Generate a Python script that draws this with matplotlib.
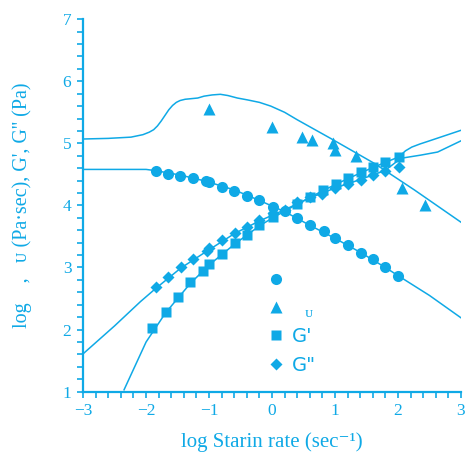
import matplotlib
matplotlib.use("Agg")
import matplotlib.pyplot as plt
from matplotlib.lines import Line2D
from matplotlib.ticker import MultipleLocator

C = "#0fa9e6"

# viscosity (circles)
eta_x = [-1.85, -1.65, -1.46, -1.25, -1.05, -1.00, -0.79, -0.60, -0.39, -0.20, 0.01,
         0.20, 0.40, 0.60, 0.82, 1.00, 1.20, 1.41, 1.60, 1.80, 2.00]
eta_y = [4.55, 4.51, 4.48, 4.44, 4.39, 4.37, 4.30, 4.24, 4.15, 4.08, 3.98,
         3.91, 3.79, 3.68, 3.58, 3.47, 3.36, 3.24, 3.13, 3.00, 2.87]

# eta_u (triangles)
etau_x = [-1.00, 0.00, 0.48, 0.63, 0.97, 1.00, 1.34, 2.07, 2.43]
etau_y = [5.55, 5.27, 5.10, 5.05, 5.01, 4.89, 4.80, 4.28, 4.01]

# G' (squares)
g1_x = [-1.90, -1.69, -1.50, -1.30, -1.09, -1.00, -0.80, -0.59, -0.39, -0.20, 0.01,
        0.40, 0.61, 0.81, 1.01, 1.20, 1.41, 1.60, 1.80, 2.01]
g1_y = [2.03, 2.29, 2.52, 2.76, 2.95, 3.06, 3.22, 3.39, 3.53, 3.68, 3.81,
        4.03, 4.14, 4.25, 4.35, 4.44, 4.54, 4.62, 4.70, 4.78]

# G'' (diamonds)
g2_x = [-1.85, -1.65, -1.45, -1.25, -1.04, -1.00, -0.80, -0.59, -0.39, -0.20, 0.01,
        0.20, 0.40, 0.60, 0.80, 1.00, 1.20, 1.41, 1.60, 1.79, 2.01]
g2_y = [2.68, 2.85, 3.00, 3.13, 3.27, 3.31, 3.44, 3.56, 3.66, 3.76, 3.87,
        3.93, 4.05, 4.13, 4.19, 4.28, 4.35, 4.41, 4.49, 4.55, 4.62]

# curves
eu_lx = [-3.0, -2.6, -2.24, -2.05, -1.95, -1.88, -1.82, -1.76, -1.70, -1.64, -1.58,
         -1.52, -1.46, -1.38, -1.28, -1.18, -1.08, -0.95, -0.82, -0.70, -0.55,
         -0.39, -0.20, -0.02, 0.20, 0.40, 0.93, 1.62, 2.26, 3.0]
eu_ly = [5.07, 5.08, 5.10, 5.14, 5.18, 5.22, 5.28, 5.36, 5.45, 5.54, 5.61,
         5.66, 5.69, 5.71, 5.72, 5.73, 5.76, 5.78, 5.79, 5.77, 5.73,
         5.70, 5.66, 5.60, 5.50, 5.38, 5.08, 4.68, 4.25, 3.73]

eta_lx = [-3.0, -2.0, -1.85, -1.46, -1.05, -0.60, -0.20, 0.20, 0.60, 1.00, 1.41, 1.80,
          2.00, 2.5, 3.0]
eta_ly = [4.58, 4.58, 4.56, 4.49, 4.39, 4.25, 4.08, 3.90, 3.68, 3.47, 3.24, 3.00,
          2.87, 2.55, 2.19]

g1_lx = [-2.35, -2.0, -1.69, -1.50, -1.30, -1.00, -0.59, -0.20, 0.01, 0.40, 0.81,
         1.20, 1.60, 2.01, 2.12, 2.22, 2.35, 2.47, 3.0]
g1_ly = [1.03, 1.80, 2.27, 2.50, 2.74, 3.04, 3.38, 3.67, 3.80, 4.02, 4.24,
         4.43, 4.61, 4.78, 4.88, 4.94, 4.99, 5.03, 5.21]

g2_lx = [-3.0, -2.5, -2.09, -1.85, -1.45, -1.04, -0.59, -0.20, 0.20, 0.60, 1.00,
         1.41, 1.79, 2.05, 2.36, 2.63, 3.0]
g2_ly = [1.61, 2.06, 2.45, 2.66, 2.99, 3.26, 3.55, 3.75, 3.93, 4.12, 4.28,
         4.42, 4.56, 4.76, 4.81, 4.86, 5.04]

fig = plt.figure(figsize=(4.67, 4.57), dpi=100)
ax = fig.add_axes([0.178, 0.143, 0.809, 0.815])

lw = 1.1
ax.plot(eu_lx, eu_ly, color=C, lw=lw)
ax.plot(eta_lx, eta_ly, color=C, lw=lw)
ax.plot(g1_lx, g1_ly, color=C, lw=lw)
ax.plot(g2_lx, g2_ly, color=C, lw=lw)

ms = 8
ax.plot(eta_x, eta_y, 'o', color=C, ms=ms, mec='none')
ax.plot(etau_x, etau_y, '^', color=C, ms=ms, mec='none')
ax.plot(g2_x, g2_y, 'D', color=C, ms=6.5, mec='none')
ax.plot(g1_x, g1_y, 's', color=C, ms=7.5, mec='none')

ax.set_xlim(-3, 3)
ax.set_ylim(1, 7)
ax.xaxis.set_major_locator(MultipleLocator(1))
ax.xaxis.set_minor_locator(MultipleLocator(0.2))
ax.yaxis.set_major_locator(MultipleLocator(1))
ax.yaxis.set_minor_locator(MultipleLocator(0.2))

for s in ['top', 'right']:
    ax.spines[s].set_visible(False)
for s in ['left', 'bottom']:
    ax.spines[s].set_color(C)
    ax.spines[s].set_linewidth(1.6)

serif = ['Liberation Serif', 'DejaVu Serif', 'DejaVu Sans']
ax.tick_params(which='both', direction='out', color=C, width=1.2, length=4.5,
               labelcolor=C, labelsize=12.5, pad=4)
ax.set_xticks([-3, -2, -1, 0, 1, 2, 3])
ax.set_xticklabels(['\u22123', '\u22122', '\u22121', '0', '1', '2', '3'])
for lab in ax.get_xticklabels() + ax.get_yticklabels():
    lab.set_family(serif)

ax.set_xlabel('log Starin rate (sec\u207b\u00b9)', color=C, fontsize=15,
              family=serif, labelpad=9)
ax.set_ylabel("log    ,   \u1d1c (Pa\u00b7sec), G', G'' (Pa)", color=C, fontsize=14.5,
              family=serif, labelpad=22)

handles = [Line2D([], [], ls='none', marker='o', color=C, ms=ms, mec='none'),
           Line2D([], [], ls='none', marker='^', color=C, ms=ms, mec='none'),
           Line2D([], [], ls='none', marker='s', color=C, ms=7.5, mec='none'),
           Line2D([], [], ls='none', marker='D', color=C, ms=6.5, mec='none')]
labels = ['', '', "G'", 'G"']
leg = ax.legend(handles, labels, loc='upper left', bbox_to_anchor=(0.443, 0.372),
                frameon=False, handlelength=0.8, handletextpad=0.45,
                labelspacing=0.48, fontsize=14, labelcolor=C)
ax.text(0.586, 0.2, '\u1d1c', transform=ax.transAxes, color=C, fontsize=11,
        family=serif)

fig.savefig('out.png', dpi=100)
